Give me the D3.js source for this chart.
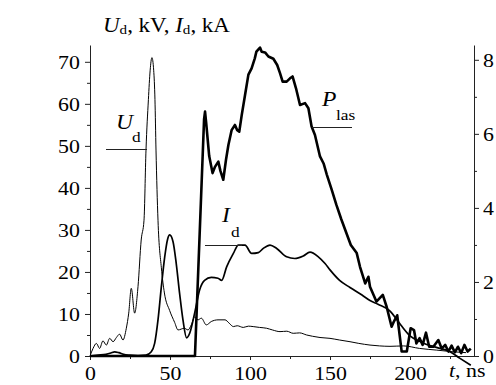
<!DOCTYPE html>
<html><head><meta charset="utf-8">
<script src="https://cdn.jsdelivr.net/npm/d3@7"></script>
<style>
html,body{margin:0;padding:0;background:#fff;}
svg text{font-family:"Liberation Serif","Times New Roman",serif !important;fill:#000;}
</style></head>
<body><svg id="c" width="496" height="385"></svg>
<script>
// ---- data ----
const uT = [0,1.9,4,6,8.1,10.2,12.3,14.4,16.5,18.5,20.6,22.7,24.2,25.8,27.9,30,32,33.75,35,36.5,37.6,38.7,39.8,40.6,41.25,42.5,44.6,46.5,49.8,52.9,55,59,61.25,63.3,65.4,67.5,69.6,72.7,75.8,80,84.4,87,89.6,92,95.8,99,102,106,110.4,114,118.75,123,127,131,135.4,139,143.75,150,156,162.5,168,175,181,187.5,196,206,216.7,227,235];
const uV = [0,1.8,3.0,1.8,3.6,2.6,4.2,3.4,4.4,5.2,3.8,6.6,10.2,16.1,10.2,16.5,27.6,32.3,49,61,68,71,68,61,49,32.3,21,15,10.8,8,6.2,6.6,6.2,7.4,9.3,8.6,9,7.4,8.2,8.6,8.6,7.8,7,7.2,6.8,7.1,7,6.8,6.6,6.2,5.8,5.9,5.4,5.5,5,4.7,4.4,4.2,3.8,3.4,3.0,2.6,2.4,2.3,2.4,1.8,1.4,1.0,0.8];

const iT = [0,5,10,13,15.4,18,21,25,30,35,38.3,40.4,42.5,44.6,46.7,48.5,49.8,51.9,53.9,56,58.1,60.4,62.3,65.4,68.5,71.6,75.8,80,82.3,85.4,89.6,92.7,96.9,101,105.2,108.3,112.5,116.7,122.9,128,133.3,137.5,142.7,146.9,150,156,162.5,170,175,180,187.5,194,200,206,210,217,225,231,238];
const iV = [0,0.2,0.4,0.7,1.0,0.8,0.4,0.2,0.1,0.2,1.0,3,8.6,16.5,23.6,27.8,28.8,27.2,22,14.9,8.6,4.3,5.4,10.2,15.7,18,18.7,18.5,18,21.2,24.4,26.4,26.4,24.4,24.6,25.6,26.4,25.6,23.6,23.2,23.8,24.7,23.6,22,20.5,18,16.3,14.5,13.2,12.3,10.7,7.5,4.8,3.5,2.8,2.0,1.0,-0.5,-2.2];

const pT = [0,65.6,71.3,71.9,72.6,74.5,76.6,78,80.2,81.5,83.3,85,86.5,88.5,90.6,92,93.3,94.8,96.9,99,101,103,104,106.25,107.3,109.4,111.5,114.6,117,118.75,120.4,122.9,125,126.6,128.75,131.25,134.4,136.5,138.5,140.6,143.75,146,148,151,154,157,160.4,163,166.7,168.75,172,174,175,179,183,185.4,188.5,189.6,192,194.8,198,200.4,202.5,204,206,207.9,210,212,214.6,217.7,219.8,222,224,226,228,230,232,234,236,238];
const pV = [0,0,6.4,6.6,6.3,5.4,4.94,5.1,5.25,5.0,4.76,5.3,5.7,6.1,6.24,6.1,6.06,6.5,7.05,7.6,7.77,8.04,8.22,8.33,8.22,8.2,8.09,8.03,7.86,7.64,7.41,7.41,7.5,7.55,7.23,6.78,6.83,6.69,6.2,5.97,5.39,5.2,4.9,4.5,4.08,3.7,3.3,3.0,2.78,2.41,1.96,2.14,1.87,1.47,1.65,1.33,0.79,0.9,1.1,0.12,0.12,0.75,0.7,0.34,0.48,0.3,0.63,0.25,0.25,0.43,0.2,0.3,0.12,0.28,0.1,0.25,0.08,0.3,0.12,0.2];

const xMajor = [0,50,100,150,200];
const xMinor = [25,75,125,175,225];
const yLMajor = [0,10,20,30,40,50,60,70];
const yLMinor = [5,15,25,35,45,55,65];
const yRMajor = [0,2,4,6,8];
const yRMinor = [1,3,5,7];

// ---- scales ----
const x = d3.scaleLinear().domain([0,240]).range([90,474]);
const yL = d3.scaleLinear().domain([0,74]).range([356,45]);
const yR = d3.scaleLinear().domain([0,8.4]).range([356,45]);

const svg = d3.select("#c");
const FS = 19.5;
const HS = 1.12; // horizontal stretch of the reference glyphs
const SERIF = "Liberation Serif, Times New Roman, serif";

function styleAxis(g){
  g.attr("font-family",SERIF);
  g.select(".domain").attr("stroke","#222").attr("stroke-width",1);
  g.selectAll(".tick line").attr("stroke","#222").attr("stroke-width",1);
  g.selectAll("text").attr("font-size",FS).attr("fill","#000").attr("transform",`scale(${HS},1)`);
}

// left axis
const gL = svg.append("g").attr("transform","translate(90,0)")
  .call(d3.axisLeft(yL).tickValues(yLMajor).tickSize(5).tickPadding(4).tickSizeOuter(0));
styleAxis(gL);
gL.selectAll("text").attr("dy","0.34em");
svg.append("g").attr("transform","translate(90,0)")
  .call(d3.axisLeft(yL).tickValues(yLMinor).tickSize(3).tickFormat("").tickSizeOuter(0))
  .call(g=>{g.select(".domain").remove(); g.selectAll(".tick line").attr("stroke","#222");});

// right axis
const gR = svg.append("g").attr("transform","translate(474,0)")
  .call(d3.axisRight(yR).tickValues(yRMajor).tickSize(5).tickPadding(3).tickSizeOuter(0));
styleAxis(gR);
gR.selectAll("text").attr("dy","0.34em");
svg.append("g").attr("transform","translate(474,0)")
  .call(d3.axisRight(yR).tickValues(yRMinor).tickSize(3).tickFormat("").tickSizeOuter(0))
  .call(g=>{g.select(".domain").remove(); g.selectAll(".tick line").attr("stroke","#222");});

// bottom axis
const gB = svg.append("g").attr("transform","translate(0,356)")
  .call(d3.axisBottom(x).tickValues(xMajor).tickSize(4).tickPadding(6).tickSizeOuter(0));
styleAxis(gB);
gB.selectAll("text").attr("dy","0.71em");
svg.append("g").attr("transform","translate(0,356)")
  .call(d3.axisBottom(x).tickValues(xMinor).tickSize(3).tickFormat("").tickSizeOuter(0))
  .call(g=>{g.select(".domain").remove(); g.selectAll(".tick line").attr("stroke","#222");});

// ---- lines ----
const lineU = d3.line().x((d,i)=>x(uT[i])).y(d=>yL(d)).curve(d3.curveMonotoneX);
const lineI = d3.line().x((d,i)=>x(iT[i])).y(d=>yL(d)).curve(d3.curveMonotoneX);
const lineP = d3.line().x((d,i)=>x(pT[i])).y(d=>yR(d)).curve(d3.curveLinear);

svg.append("path").attr("d",lineU(uV)).attr("fill","none").attr("stroke","#000").attr("stroke-width",1);
svg.append("path").attr("d",lineI(iV)).attr("fill","none").attr("stroke","#000").attr("stroke-width",1.7);
svg.append("path").attr("d",lineP(pV)).attr("fill","none").attr("stroke","#000").attr("stroke-width",2.6).attr("stroke-linejoin","round");

// ---- text helper ----
function txt(xp, yb, size){
  return svg.append("text").attr("transform",`translate(${xp},${yb}) scale(${HS},1)`)
    .attr("font-family",SERIF).attr("font-size",size);
}
function label(xp, yb, main, sub, xs, ys, lx1, lx2, ly){
  txt(xp,yb,21).attr("font-style","italic").text(main);
  txt(xs,ys,15.5).text(sub);
  svg.append("line").attr("x1",lx1).attr("x2",lx2).attr("y1",ly).attr("y2",ly).attr("stroke","#222").attr("stroke-width",1);
}
label(116,129,"U","d",132,142,106,147,149.5);
label(322,106,"P","las",336,120,312,352,127.5);
label(222,222,"I","d",231,237,205,242,245.5);

// title
const tt = txt(103,32,20.5);
tt.append("tspan").attr("font-style","italic").text("U");
tt.append("tspan").attr("font-size",13.5).attr("dy",2).text("d");
tt.append("tspan").attr("dy",-2).text(", kV, ");
tt.append("tspan").attr("font-style","italic").text("I");
tt.append("tspan").attr("font-size",13.5).attr("dy",2).text("d");
tt.append("tspan").attr("dy",-2).text(", kA");

// x axis label
const xl = txt(449,377,FS);
xl.append("tspan").attr("font-style","italic").text("t");
xl.append("tspan").text(", ns");
</script></body></html>
